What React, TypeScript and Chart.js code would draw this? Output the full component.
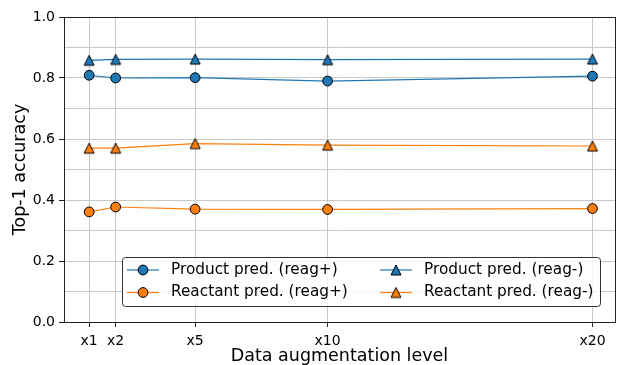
import { useEffect, useRef } from 'react';
import { Chart, registerables } from 'chart.js';
Chart.register(...registerables);

const levels = [1, 2, 5, 10, 20];
const levelLabels = ['x1', 'x2', 'x5', 'x10', 'x20'];
const productReagPlus = [0.809, 0.8, 0.801, 0.79, 0.806];
const reactantReagPlus = [0.361, 0.377, 0.37, 0.369, 0.372];
const productReagMinus = [0.858, 0.861, 0.862, 0.86, 0.862];
const reactantReagMinus = [0.57, 0.57, 0.585, 0.58, 0.577];
const seriesNames = [
  'Product pred. (reag+)',
  'Reactant pred. (reag+)',
  'Product pred. (reag-)',
  'Reactant pred. (reag-)',
];
const BLUE = '#1f77b4';
const ORANGE = '#ff7f0e';
const FONT = 'DejaVu Sans';

function makeTriangle(color: string, size: number) {
  const s = Math.ceil(size + 4);
  const c = document.createElement('canvas');
  c.width = s;
  c.height = s;
  const ctx = c.getContext('2d')!;
  const m = s / 2;
  const h = size / 2;
  ctx.beginPath();
  ctx.moveTo(m, m - h);
  ctx.lineTo(m - h, m + h);
  ctx.lineTo(m + h, m + h);
  ctx.closePath();
  ctx.fillStyle = color;
  ctx.fill();
  ctx.lineWidth = 1;
  ctx.strokeStyle = '#000';
  ctx.stroke();
  return c;
}

const framePlugin = {
  id: 'frame',
  afterDraw(chart: any) {
    const { ctx, chartArea: a } = chart;
    ctx.save();
    ctx.strokeStyle = '#222';
    ctx.lineWidth = 1;
    ctx.strokeRect(Math.round(a.left) + 0.5, Math.round(a.top) + 0.5, Math.round(a.right - a.left), Math.round(a.bottom - a.top));
    ctx.restore();
  },
};

const legendPlugin = {
  id: 'mplLegend',
  afterDraw(chart: any) {
    const ctx = chart.ctx;
    const bx = 122.5, by = 257.5, bw = 478, bh = 49, r = 3;
    ctx.save();
    ctx.beginPath();
    ctx.moveTo(bx + r, by);
    ctx.lineTo(bx + bw - r, by);
    ctx.quadraticCurveTo(bx + bw, by, bx + bw, by + r);
    ctx.lineTo(bx + bw, by + bh - r);
    ctx.quadraticCurveTo(bx + bw, by + bh, bx + bw - r, by + bh);
    ctx.lineTo(bx + r, by + bh);
    ctx.quadraticCurveTo(bx, by + bh, bx, by + bh - r);
    ctx.lineTo(bx, by + r);
    ctx.quadraticCurveTo(bx, by, bx + r, by);
    ctx.closePath();
    ctx.fillStyle = 'rgba(255,255,255,0.8)';
    ctx.fill();
    ctx.strokeStyle = '#333';
    ctx.lineWidth = 1;
    ctx.stroke();
    chart.data.datasets.forEach((ds: any, i: number) => {
      const col = Math.floor(i / 2);
      const row = i % 2;
      const x0 = 127 + col * 253;
      const y = 270 + row * 22.5;
      ctx.beginPath();
      ctx.strokeStyle = ds.borderColor;
      ctx.lineWidth = ds.borderWidth;
      ctx.moveTo(x0, y);
      ctx.lineTo(x0 + 32, y);
      ctx.stroke();
      const mx = x0 + 16;
      if (ds.pointStyle === 'circle') {
        ctx.beginPath();
        ctx.arc(mx, y, ds.pointRadius, 0, Math.PI * 2);
        ctx.fillStyle = ds.pointBackgroundColor;
        ctx.fill();
        ctx.strokeStyle = '#000';
        ctx.lineWidth = 1;
        ctx.stroke();
      } else {
        const img = ds.pointStyle as HTMLCanvasElement;
        ctx.drawImage(img, mx - img.width / 2, y - img.height / 2);
      }
      ctx.fillStyle = '#000';
      ctx.font = `15.3px "${FONT}"`;
      ctx.textBaseline = 'middle';
      ctx.textAlign = 'left';
      ctx.fillText(ds.label, x0 + 44, y);
    });
    ctx.restore();
  },
};

export default function App() {
  const ref = useRef<HTMLCanvasElement>(null);
  useEffect(() => {
    document.body.style.margin = '0';
    Chart.defaults.font.family = FONT;
    const pts = (vals: number[]) => vals.map((v, i) => ({ x: levels[i], y: v }));
    const mk = (label: string, vals: number[], color: string, tri: boolean) => ({
      label,
      data: pts(vals),
      borderColor: color,
      backgroundColor: color,
      borderWidth: 1.2,
      pointStyle: tri ? makeTriangle(color, 10) : 'circle',
      pointRadius: 4.9,
      pointBackgroundColor: color,
      pointBorderColor: '#000',
      pointBorderWidth: 1,
      tension: 0,
    });
    const chart = new Chart(ref.current!, {
      type: 'line',
      data: {
        datasets: [
          mk(seriesNames[0], productReagPlus, BLUE, false),
          mk(seriesNames[1], reactantReagPlus, ORANGE, false),
          mk(seriesNames[2], productReagMinus, BLUE, true),
          mk(seriesNames[3], reactantReagMinus, ORANGE, true),
        ] as any,
      },
      options: {
        responsive: false,
        animation: false,
        events: [],
        layout: { autoPadding: false, padding: { top: 17, right: 3, left: 0, bottom: 0 } },
        plugins: { legend: { display: false }, tooltip: { enabled: false } },
        scales: {
          x: {
            type: 'linear',
            min: 0.05,
            max: 20.85,
            afterBuildTicks: (s: any) => {
              s.ticks = levels.map((v) => ({ value: v }));
            },
            afterFit: (s: any) => {
              s.height = 43;
            },
            ticks: {
              autoSkip: false,
              maxRotation: 0,
              padding: 6,
              color: '#000',
              font: { size: 14, family: FONT },
              callback: (v: any) => {
                const i = levels.indexOf(Number(v));
                return i >= 0 ? levelLabels[i] : '';
              },
            },
            grid: { color: '#c8c8c8', lineWidth: 1, tickColor: '#222', tickLength: 5 },
            border: { display: false },
            title: {
              display: true,
              text: 'Data augmentation level',
              color: '#000',
              font: { size: 17.5, family: FONT, lineHeight: 1 },
              padding: { top: 0, bottom: 0 },
            },
          },
          y: {
            min: 0,
            max: 1,
            afterFit: (s: any) => {
              s.width = 64;
            },
            ticks: {
              stepSize: 0.1,
              padding: 4,
              color: '#000',
              font: { size: 14, family: FONT },
              callback: (v: any, i: number) => (i % 2 === 0 ? Number(v).toFixed(1) : ''),
            },
            grid: {
              color: '#c8c8c8',
              lineWidth: 1,
              tickLength: 5,
              tickColor: (c: any) => (c.index % 2 === 0 ? '#222' : 'rgba(0,0,0,0)'),
            },
            border: { display: false },
            title: {
              display: true,
              text: 'Top-1 accuracy',
              color: '#000',
              font: { size: 17.5, family: FONT, lineHeight: 1 },
              padding: { top: 12, bottom: 0 },
            },
          },
        },
      },
      plugins: [framePlugin, legendPlugin],
    });
    return () => chart.destroy();
  }, []);
  return (
    <div style={{ position: 'absolute', left: 0, top: 0, width: 618, height: 365 }}>
      <canvas ref={ref} width={618} height={365} />
    </div>
  );
}
